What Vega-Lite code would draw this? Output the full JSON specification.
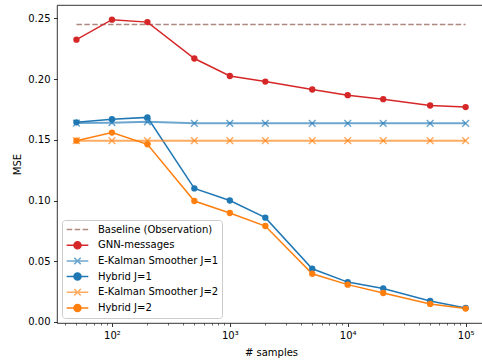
{
  "$schema": "https://vega.github.io/schema/vega-lite/v6.json",
  "width": 428,
  "height": 318,
  "autosize": {"type": "none"},
  "padding": {"left": 57, "top": 5, "right": 0, "bottom": 37},
  "config": {
    "font": "DejaVu Sans",
    "view": {"stroke": "#000000", "strokeWidth": 0.8},
    "axis": {"labelFont": "DejaVu Sans", "titleFont": "DejaVu Sans", "labelFontSize": 10, "titleFontSize": 10, "titleFontWeight": "normal", "labelColor": "#000000", "titleColor": "#000000", "tickColor": "#000000", "grid": false, "domain": false},
    "legend": {"labelFont": "DejaVu Sans", "labelFontSize": 10, "labelColor": "#000000"}
  },
  "data": {"values": [
    {"n": 50, "series": "Baseline (Observation)", "mse": 0.245},
    {"n": 100, "series": "Baseline (Observation)", "mse": 0.245},
    {"n": 200, "series": "Baseline (Observation)", "mse": 0.245},
    {"n": 500, "series": "Baseline (Observation)", "mse": 0.245},
    {"n": 1000, "series": "Baseline (Observation)", "mse": 0.245},
    {"n": 2000, "series": "Baseline (Observation)", "mse": 0.245},
    {"n": 5000, "series": "Baseline (Observation)", "mse": 0.245},
    {"n": 10000, "series": "Baseline (Observation)", "mse": 0.245},
    {"n": 20000, "series": "Baseline (Observation)", "mse": 0.245},
    {"n": 50000, "series": "Baseline (Observation)", "mse": 0.245},
    {"n": 100000, "series": "Baseline (Observation)", "mse": 0.245},
    {"n": 50, "series": "GNN-messages", "mse": 0.2325},
    {"n": 100, "series": "GNN-messages", "mse": 0.249},
    {"n": 200, "series": "GNN-messages", "mse": 0.247},
    {"n": 500, "series": "GNN-messages", "mse": 0.217},
    {"n": 1000, "series": "GNN-messages", "mse": 0.2026},
    {"n": 2000, "series": "GNN-messages", "mse": 0.198},
    {"n": 5000, "series": "GNN-messages", "mse": 0.1915},
    {"n": 10000, "series": "GNN-messages", "mse": 0.1868},
    {"n": 20000, "series": "GNN-messages", "mse": 0.1835},
    {"n": 50000, "series": "GNN-messages", "mse": 0.1783},
    {"n": 100000, "series": "GNN-messages", "mse": 0.177},
    {"n": 50, "series": "E-Kalman Smoother J=1", "mse": 0.1638},
    {"n": 100, "series": "E-Kalman Smoother J=1", "mse": 0.1641},
    {"n": 200, "series": "E-Kalman Smoother J=1", "mse": 0.1649},
    {"n": 500, "series": "E-Kalman Smoother J=1", "mse": 0.1636},
    {"n": 1000, "series": "E-Kalman Smoother J=1", "mse": 0.1636},
    {"n": 2000, "series": "E-Kalman Smoother J=1", "mse": 0.1636},
    {"n": 5000, "series": "E-Kalman Smoother J=1", "mse": 0.1636},
    {"n": 10000, "series": "E-Kalman Smoother J=1", "mse": 0.1636},
    {"n": 20000, "series": "E-Kalman Smoother J=1", "mse": 0.1636},
    {"n": 50000, "series": "E-Kalman Smoother J=1", "mse": 0.1636},
    {"n": 100000, "series": "E-Kalman Smoother J=1", "mse": 0.1636},
    {"n": 50, "series": "Hybrid J=1", "mse": 0.1644},
    {"n": 100, "series": "Hybrid J=1", "mse": 0.167},
    {"n": 200, "series": "Hybrid J=1", "mse": 0.1685},
    {"n": 500, "series": "Hybrid J=1", "mse": 0.110},
    {"n": 1000, "series": "Hybrid J=1", "mse": 0.100},
    {"n": 2000, "series": "Hybrid J=1", "mse": 0.0859},
    {"n": 5000, "series": "Hybrid J=1", "mse": 0.0438},
    {"n": 10000, "series": "Hybrid J=1", "mse": 0.0328},
    {"n": 20000, "series": "Hybrid J=1", "mse": 0.0276},
    {"n": 50000, "series": "Hybrid J=1", "mse": 0.0172},
    {"n": 100000, "series": "Hybrid J=1", "mse": 0.0115},
    {"n": 50, "series": "E-Kalman Smoother J=2", "mse": 0.1493},
    {"n": 100, "series": "E-Kalman Smoother J=2", "mse": 0.1493},
    {"n": 200, "series": "E-Kalman Smoother J=2", "mse": 0.1493},
    {"n": 500, "series": "E-Kalman Smoother J=2", "mse": 0.1493},
    {"n": 1000, "series": "E-Kalman Smoother J=2", "mse": 0.1493},
    {"n": 2000, "series": "E-Kalman Smoother J=2", "mse": 0.1493},
    {"n": 5000, "series": "E-Kalman Smoother J=2", "mse": 0.1493},
    {"n": 10000, "series": "E-Kalman Smoother J=2", "mse": 0.1493},
    {"n": 20000, "series": "E-Kalman Smoother J=2", "mse": 0.1493},
    {"n": 50000, "series": "E-Kalman Smoother J=2", "mse": 0.1493},
    {"n": 100000, "series": "E-Kalman Smoother J=2", "mse": 0.1493},
    {"n": 50, "series": "Hybrid J=2", "mse": 0.1493},
    {"n": 100, "series": "Hybrid J=2", "mse": 0.156},
    {"n": 200, "series": "Hybrid J=2", "mse": 0.1463},
    {"n": 500, "series": "Hybrid J=2", "mse": 0.0996},
    {"n": 1000, "series": "Hybrid J=2", "mse": 0.0897},
    {"n": 2000, "series": "Hybrid J=2", "mse": 0.079},
    {"n": 5000, "series": "Hybrid J=2", "mse": 0.0397},
    {"n": 10000, "series": "Hybrid J=2", "mse": 0.0307},
    {"n": 20000, "series": "Hybrid J=2", "mse": 0.0238},
    {"n": 50000, "series": "Hybrid J=2", "mse": 0.0148},
    {"n": 100000, "series": "Hybrid J=2", "mse": 0.011}
  ]},
  "encoding": {
    "x": {
      "field": "n", "type": "quantitative",
      "scale": {"type": "log", "domain": [34.2, 146000], "nice": false},
      "axis": {
        "title": "# samples",
        "values": [40, 50, 60, 70, 80, 90, 100, 200, 300, 400, 500, 600, 700, 800, 900, 1000, 2000, 3000, 4000, 5000, 6000, 7000, 8000, 9000, 10000, 20000, 30000, 40000, 50000, 60000, 70000, 80000, 90000, 100000],
        "labelExpr": "datum.value == 100 ? '10²' : datum.value == 1000 ? '10³' : datum.value == 10000 ? '10⁴' : datum.value == 100000 ? '10⁵' : ''",
        "labelOverlap": false,
        "labelBound": false,
        "labelFlush": false,
        "tickSize": {"condition": {"test": "datum.value == 100 || datum.value == 1000 || datum.value == 10000 || datum.value == 100000", "value": 3.5}, "value": 2},
        "tickWidth": {"condition": {"test": "datum.value == 100 || datum.value == 1000 || datum.value == 10000 || datum.value == 100000", "value": 0.8}, "value": 0.6},
        "labelPadding": 3.5,
        "titlePadding": 7
      }
    },
    "y": {
      "field": "mse", "type": "quantitative",
      "scale": {"domain": [-0.0009, 0.2611], "nice": false, "zero": false},
      "axis": {
        "title": "MSE",
        "values": [0, 0.05, 0.1, 0.15, 0.2, 0.25],
        "format": ".2f",
        "tickSize": 3.5,
        "tickWidth": 0.8,
        "labelPadding": 3.5,
        "titlePadding": 5
      }
    }
  },
  "layer": [
    {
      "transform": [{"filter": "datum.series == 'Baseline (Observation)'"}],
      "mark": {"type": "line", "color": "#8c564b", "opacity": 0.7, "strokeWidth": 1.5, "strokeDash": [5.5, 2.4]}
    },
    {
      "transform": [{"filter": "datum.series == 'GNN-messages' || datum.series == 'Hybrid J=1'"}],
      "mark": {"type": "line", "strokeWidth": 1.5},
      "encoding": {
        "color": {"field": "series", "type": "nominal", "legend": null,
          "scale": {"domain": ["GNN-messages", "E-Kalman Smoother J=1", "Hybrid J=1", "E-Kalman Smoother J=2", "Hybrid J=2"], "range": ["#d62728", "#1f77b4", "#1f77b4", "#ff7f0e", "#ff7f0e"]}}
      }
    },
    {
      "transform": [{"filter": "datum.series == 'E-Kalman Smoother J=1' || datum.series == 'E-Kalman Smoother J=2'"}],
      "mark": {"type": "line", "strokeWidth": 2, "opacity": 0.65},
      "encoding": {
        "color": {"field": "series", "type": "nominal", "legend": null}
      }
    },
    {
      "transform": [{"filter": "datum.series == 'Hybrid J=2'"}],
      "mark": {"type": "line", "strokeWidth": 1.5},
      "encoding": {
        "color": {"field": "series", "type": "nominal", "legend": null}
      }
    },
    {
      "transform": [{"filter": "datum.series == 'E-Kalman Smoother J=1' || datum.series == 'E-Kalman Smoother J=2'"}],
      "mark": {"type": "point", "shape": "M-1,-1L1,1M-1,1L1,-1", "filled": false, "size": 45, "strokeWidth": 1.5, "opacity": 0.65},
      "encoding": {
        "color": {"field": "series", "type": "nominal", "legend": null}
      }
    },
    {
      "transform": [{"filter": "datum.series == 'GNN-messages' || datum.series == 'Hybrid J=1' || datum.series == 'Hybrid J=2'"}],
      "mark": {"type": "point", "shape": "circle", "filled": true, "size": 40, "opacity": 1},
      "encoding": {
        "color": {"field": "series", "type": "nominal", "legend": null}
      }
    },
    {
      "transform": [{"filter": "datum.mse < 0"}],
      "mark": {"type": "point", "filled": true, "opacity": 1},
      "encoding": {
        "fill": {"field": "series", "type": "nominal",
          "scale": {"domain": ["Baseline (Observation)", "GNN-messages", "E-Kalman Smoother J=1", "Hybrid J=1", "E-Kalman Smoother J=2", "Hybrid J=2"], "range": ["#af8981", "#d62728", "#6da6ce", "#1f77b4", "#ffac62", "#ff7f0e"]},
          "legend": {"title": null, "orient": "bottom-left", "offset": 5, "padding": 3.5, "strokeColor": "#cccccc", "fillColor": "rgba(255,255,255,0.8)", "cornerRadius": 3, "symbolSize": 467, "symbolStrokeWidth": 1.5, "symbolOpacity": 1, "labelOffset": 8.4, "rowPadding": 3.7, "clipHeight": 12, "labelFontSize": 10}},
        "stroke": {"field": "series", "type": "nominal",
          "scale": {"domain": ["Baseline (Observation)", "GNN-messages", "E-Kalman Smoother J=1", "Hybrid J=1", "E-Kalman Smoother J=2", "Hybrid J=2"], "range": ["#af8981", "#d62728", "#6da6ce", "#1f77b4", "#ffac62", "#ff7f0e"]},
          "legend": {"title": null, "orient": "bottom-left", "offset": 5, "padding": 3.5, "strokeColor": "#cccccc", "fillColor": "rgba(255,255,255,0.8)", "cornerRadius": 3, "symbolSize": 467, "symbolStrokeWidth": 1.5, "symbolOpacity": 1, "labelOffset": 8.4, "rowPadding": 3.7, "clipHeight": 12, "labelFontSize": 10}},
        "shape": {"field": "series", "type": "nominal",
          "scale": {"domain": ["Baseline (Observation)", "GNN-messages", "E-Kalman Smoother J=1", "Hybrid J=1", "E-Kalman Smoother J=2", "Hybrid J=2"],
            "range": [
              "M-1,0H-0.486M-0.264,0H0.25M0.472,0H0.986",
              "M-1,0H1M-0.324,0A0.324,0.324 0 1,0 0.324,0A0.324,0.324 0 1,0 -0.324,0Z",
              "M-1,0H1M-0.3,-0.3L0.3,0.3M-0.3,0.3L0.3,-0.3",
              "M-1,0H1M-0.324,0A0.324,0.324 0 1,0 0.324,0A0.324,0.324 0 1,0 -0.324,0Z",
              "M-1,0H1M-0.3,-0.3L0.3,0.3M-0.3,0.3L0.3,-0.3",
              "M-1,0H1M-0.324,0A0.324,0.324 0 1,0 0.324,0A0.324,0.324 0 1,0 -0.324,0Z"
            ]},
          "legend": {"title": null, "orient": "bottom-left", "offset": 5, "padding": 3.5, "strokeColor": "#cccccc", "fillColor": "rgba(255,255,255,0.8)", "cornerRadius": 3, "symbolSize": 467, "symbolStrokeWidth": 1.5, "symbolOpacity": 1, "labelOffset": 8.4, "rowPadding": 3.7, "clipHeight": 12, "labelFontSize": 10}}
      }
    }
  ]
}
